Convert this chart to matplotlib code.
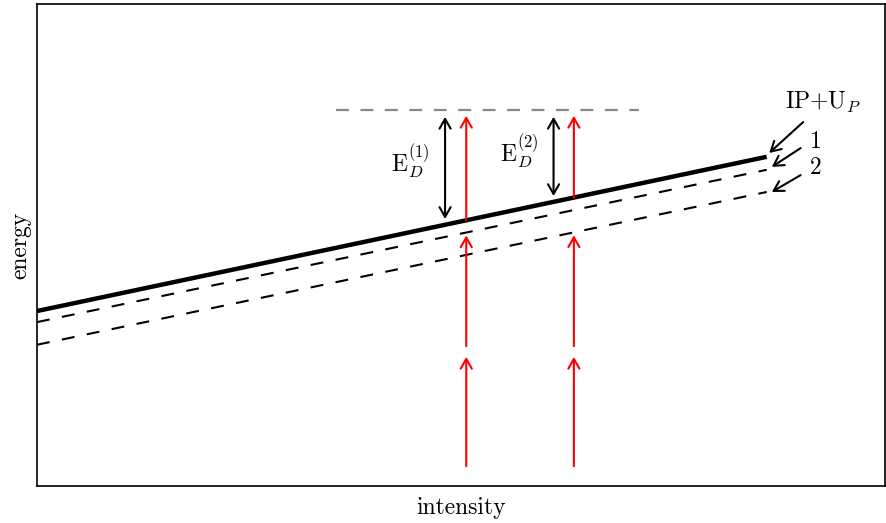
import numpy as np
import matplotlib.pyplot as plt

# threshold lines: IP+Up and the two shifted levels (x from 0 to 100, y from 0 to 100)
line_x = [0.0, 86.1]
ip_up = [36.3, 68.3]
level_1 = [34.0, 65.6]
level_2 = [29.3, 61.0]

# continuum / target level
top_x = [35.3, 71.0]
top_y = 78.0

# photon ladders and the detuning arrows
photon_x = [50.65, 63.35]
photon_low = [4.1, 26.8]
photon_mid_start = 29.0
edet_x = [48.15, 60.95]
edet_names = [r'$\mathrm{E}_D^{(1)}$', r'$\mathrm{E}_D^{(2)}$']
edet_text_xy = [(44.1, 67.3), (56.9, 69.4)]

# right-hand labels
lab_names = [r'IP+U$_P$', '1', '2']
lab_xy = [(92.8, 79.6), (91.9, 71.4), (91.9, 66.0)]
lab_arrow_from = [(90.4, 75.5), (90.1, 70.1), (90.1, 64.5)]
lab_arrow_to = [(86.4, 69.1), (86.7, 66.2), (86.7, 61.0)]

plt.rcParams['font.family'] = 'serif'
plt.rcParams['font.serif'] = ['cmr10']
plt.rcParams['mathtext.fontset'] = 'cm'
plt.rcParams['axes.formatter.use_mathtext'] = True

fig = plt.figure(figsize=(8.86, 5.23), dpi=100)
ax = fig.add_axes([37/886, 37/523, 847.5/886, 482/523])

ax.plot(line_x, ip_up, color='black', lw=3.2, solid_capstyle='butt')
ax.plot(line_x, level_1, color='black', lw=1.5, dashes=(6.2, 6.0))
ax.plot(line_x, level_2, color='black', lw=1.5, dashes=(6.2, 6.0))
ax.plot(top_x, [top_y, top_y], color='#888888', lw=1.6, dashes=(5.8, 5.2))

arr = '->,head_length=0.7,head_width=0.4'
gap = 0.6
for i, x in enumerate(photon_x):
    y_ip = np.interp(x, line_x, ip_up)
    y_end = np.interp(x, line_x, [level_1, level_2][i])
    segs = [(photon_low[0], photon_low[1]),
            (photon_mid_start, y_end - gap),
            (y_ip, top_y - 1.2)]
    for y0, y1 in segs:
        ax.annotate('', xy=(x, y1), xytext=(x, y0),
                    arrowprops=dict(arrowstyle=arr, color='red', lw=1.5,
                                    shrinkA=0, shrinkB=0, mutation_scale=10))

for x, name, txy in zip(edet_x, edet_names, edet_text_xy):
    y_ip = np.interp(x, line_x, ip_up)
    ax.annotate('', xy=(x, y_ip + 1.2), xytext=(x, top_y - 1.4),
                arrowprops=dict(arrowstyle='<->,head_length=0.7,head_width=0.4',
                                color='black', lw=1.5, shrinkA=0, shrinkB=0,
                                mutation_scale=10))
    ax.text(txy[0], txy[1], name, fontsize=17, ha='center', va='center')

for name, txy, p0, p1 in zip(lab_names, lab_xy, lab_arrow_from, lab_arrow_to):
    ax.annotate('', xy=p1, xytext=p0,
                arrowprops=dict(arrowstyle=arr, color='black', lw=1.5,
                                shrinkA=0, shrinkB=0, mutation_scale=10))
    ax.text(txy[0], txy[1], name, fontsize=17, ha='center', va='center')

ax.set_xlim(0, 100)
ax.set_ylim(0, 100)
ax.set_xticks([])
ax.set_yticks([])
for s in ax.spines.values():
    s.set_linewidth(1.2)
ax.set_xlabel('intensity', fontsize=17, labelpad=8)
ax.set_ylabel('energy', fontsize=17, labelpad=4)

fig.savefig('out.png', dpi=100)
